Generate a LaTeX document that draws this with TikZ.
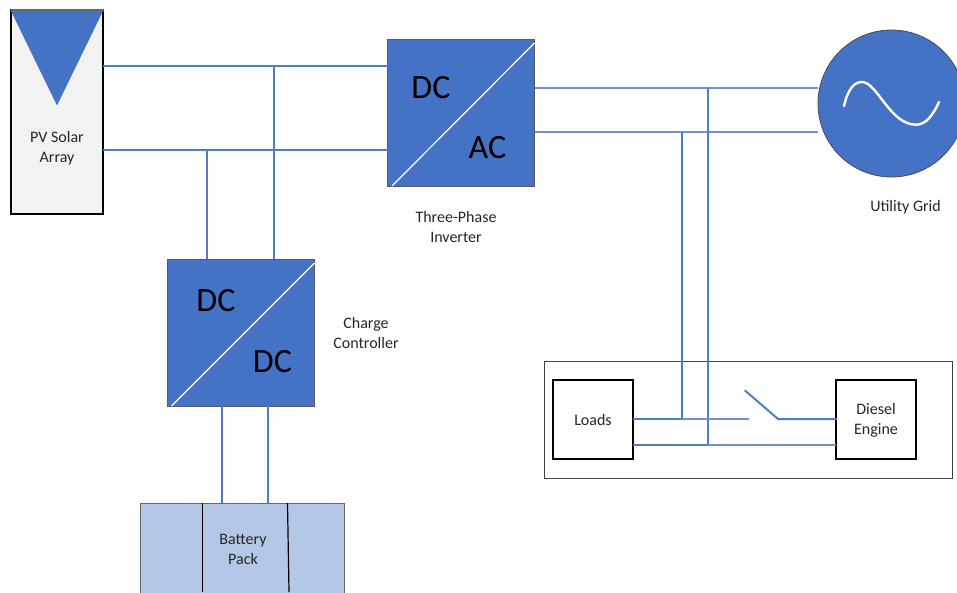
\documentclass[tikz,border=0pt]{standalone}
\usepackage{fontspec}
\setmainfont{Carlito}
\definecolor{acc}{HTML}{4472C4}
\definecolor{wire}{HTML}{4F7BCB}
\definecolor{wirethin}{HTML}{6E92D4}
\definecolor{batt}{HTML}{B4C7E7}
\definecolor{pvfill}{HTML}{F2F2F2}
\tikzset{
 lbl/.style={font=\fontsize{16}{20}\selectfont,align=center,text=black!85,inner sep=0pt},
 big/.style={font=\fontsize{34}{34}\selectfont,text=black,inner sep=0pt},
 conv/.style={fill=acc,draw=black!65,line width=.8pt,minimum width=147pt,minimum height=147pt,inner sep=0pt,outer sep=0pt},
 blackbox/.style={draw=black,line width=2pt,fill=white,minimum width=80pt,minimum height=79pt,inner sep=0pt,outer sep=0pt},
 wirel/.style={draw=wire,line width=2pt},
 wiret/.style={draw=wirethin,line width=1.3pt},
}
\begin{document}
\begin{tikzpicture}[x=1pt,y=-1pt]
\useasboundingbox (0,0) rectangle (957,592);
\clip (0,0) rectangle (957,592);
\fill[white] (0,0) rectangle (957,592);
% outer enclosure
\node[draw=black!75,line width=1pt,minimum width=408pt,minimum height=117pt,inner sep=0pt,outer sep=0pt] (enc) at (748,419.5) {};
% main shapes
\node[draw=black,line width=2pt,fill=pvfill,minimum width=92pt,minimum height=204pt,inner sep=0pt,outer sep=0pt] (pv) at (57,112) {};
\fill[acc] (10.5,10) -- (103.5,10) -- (57,105.5) -- cycle;
\draw[black!60,line width=1.2pt] (10.5,10) -- (103.5,10);
\node[lbl] (pvt) at (57,148) {PV Solar\\Array};
\node[conv] (inv) at (461,112.5) {};
\node[conv] (chg) at (241,332.5) {};
\draw[white,line width=1.2pt] (392,186) -- (534.5,43);
\draw[white,line width=1.2pt] (171.5,406) -- (314.5,263);
\node[big] (dc1) at (431,88) {DC};
\node[big] (ac1) at (487.5,148) {AC};
\node[big] (dc2) at (216,301) {DC};
\node[big] (dc3) at (272.5,362) {DC};
\node[lbl] (invt) at (456,227) {Three-Phase\\Inverter};
\node[lbl] (chgt) at (366,332.5) {Charge\\Controller};
\node[fill=batt,draw=black!60,line width=1pt,minimum width=204pt,minimum height=120pt,inner sep=0pt,outer sep=0pt] (bat) at (242.7,563) {};
\draw[black,line width=1.2pt] (202.5,503) -- (202.5,592);
\draw[black,line width=1.2pt] (287.5,503) -- (289,592);
\node[lbl] (batt) at (243,549) {Battery\\Pack};
% junctions
\coordinate (j66) at (274,66); \coordinate (j150) at (207,150);
\coordinate (j88) at (708,88); \coordinate (j132) at (682,132);
\coordinate (j419) at (682,419); \coordinate (j445) at (708,445);
\coordinate (swa) at (749,419); \coordinate (swb) at (778,419); \coordinate (swt) at (745,390.5);
\node[circle,fill=acc,draw=black!70,line width=.8pt,minimum size=147pt,inner sep=0pt,outer sep=0pt] (grid) at (891.5,103.5) {};
\draw[white,line width=2.4pt,line cap=round] (844,106) .. controls (848,89) and (854,82) .. (862,82) .. controls (877,82) and (890,124.7) .. (916,124.7) .. controls (926,124.7) and (933,115) .. (939,102);
\node[lbl] (gridt) at (905.5,207.5) {Utility Grid};
\node[blackbox] (loads) at (593,419.5) {};
\node[lbl] at (593,419.5) {Loads};
\node[blackbox] (diesel) at (876,419.5) {};
\node[lbl] at (876,420) {Diesel\\Engine};
% connectors
\draw[wirel] (pv.east |- j66) -- (j66) -- (inv.west |- j66);
\draw[wirel] (pv.east |- j150) -- (j150) -- (inv.west |- j150);
\draw[wirel] (j150) -- (j150 |- chg.north);
\draw[wirel] (j66) -- (j66 |- chg.north);
\draw[wirel] (221.5,406) -- (221.5,503);
\draw[wirel] (268,406) -- (268,503);
\draw[wiret,line width=1.6pt] (inv.east |- j88) -- (j88) -- (grid.west |- j88);
\draw[wiret,line width=1.6pt] (inv.east |- j132) -- (j132) -- (grid.west |- j132);
\draw[wirel] (j88) -- (j445);
\draw[wirel] (j132) -- (j419);
\draw[wirel,line width=2.3pt] (loads.east |- j419) -- (j419);
\draw[wiret] (j419) -- (swa);
\draw[wirel,line width=2.3pt] (loads.east |- j445) -- (j445);
\draw[wiret] (j445) -- (diesel.west |- j445);
\draw[wirel,line cap=round] (swt) -- (swb) -- (diesel.west |- swb);
\end{tikzpicture}
\end{document}
